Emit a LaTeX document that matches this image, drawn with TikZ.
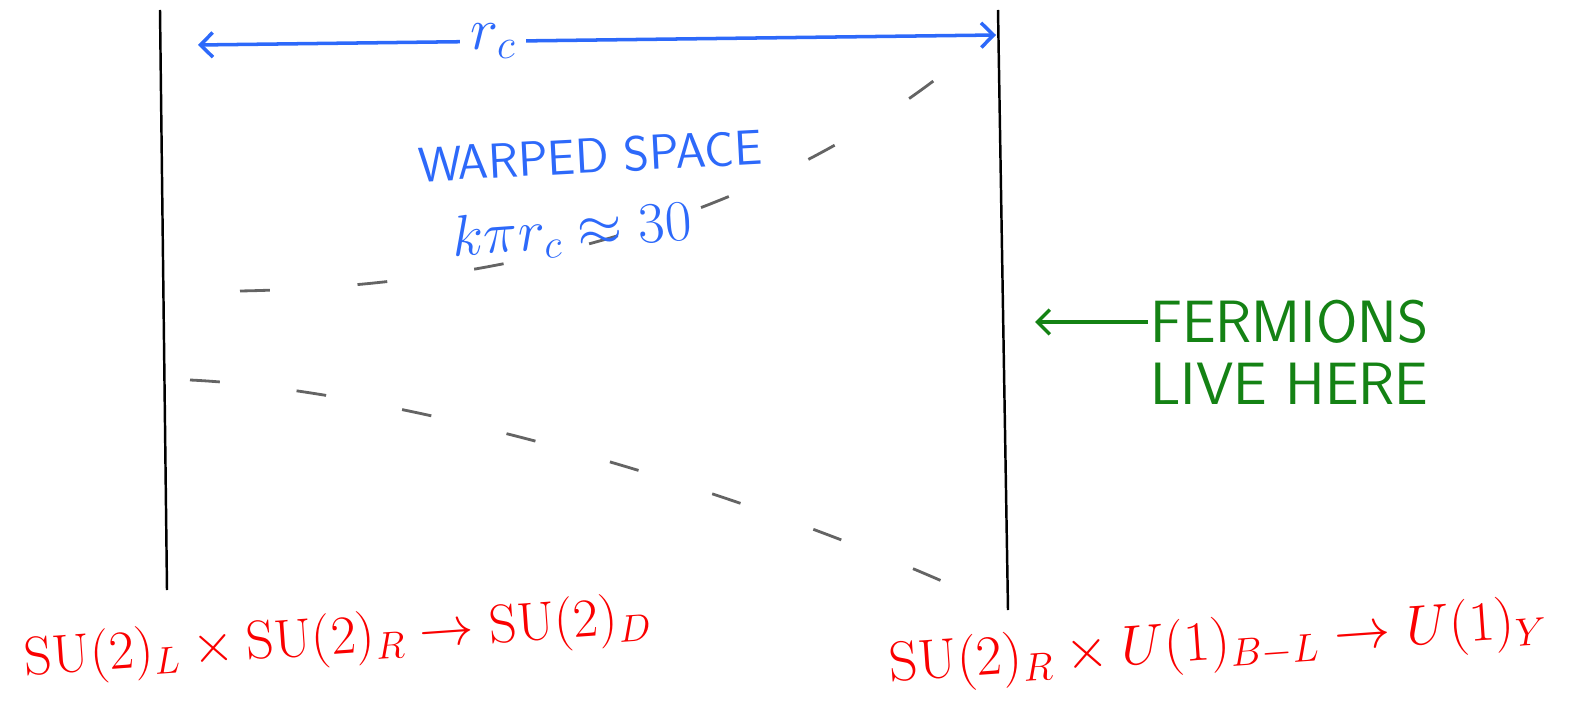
\RequirePackage{fix-cm}
\documentclass[tikz,border=0pt]{standalone}
\usepackage{fontspec}
\usepackage{amsmath}
\usetikzlibrary{arrows.meta,positioning}
\definecolor{penblue}{RGB}{45,105,250}
\definecolor{penred}{RGB}{250,0,0}
\definecolor{pengreen}{RGB}{20,130,20}
\definecolor{pengray}{RGB}{100,100,100}

\begin{document}
\begin{tikzpicture}[
  x=0.02cm, y=-0.02cm,
  wall/.style={draw=black, line width=1.4pt},
  warp/.style={draw=pengray, line width=1.6pt, dash pattern=on 17pt off 44pt},
  arr/.style={{Straight Barb[length=7pt,width=14pt]}-{Straight Barb[length=7pt,width=14pt]},
              line width=2pt, penblue},
  garr/.style={{Straight Barb[length=7pt,width=14pt]}-, line width=2pt, pengreen},
  lbl/.style={inner sep=1pt, font=\sffamily\fontsize{28}{38}\selectfont\addfontfeatures{LetterSpace=12}},
  glbl/.style={lbl, text=pengreen, font=\sffamily\fontsize{34}{40}\selectfont\addfontfeatures{LetterSpace=15}},
  grp/.style={text=penred, inner sep=1pt, rotate=4, font=\fontsize{31}{38}\selectfont}
]
\useasboundingbox (0,0) rectangle (1581,709);

% the two branes
\coordinate (uvtop) at (160,10);
\coordinate (uvbot) at (167,590);
\coordinate (irtop) at (998,10);
\coordinate (irbot) at (1008,610);
\draw[wall] (uvtop) -- (uvbot);
\draw[wall] (irtop) -- (irbot);

% size of the extra dimension
\coordinate (rcl) at (198,45);
\coordinate (rcr) at (996,35);
\draw[arr] (rcl) -- node[pos=0.37, fill=white, inner sep=6pt, text=penblue,
  font=\fontsize{34}{40}\selectfont] (rc) {$r_c$} (rcr);

% warp factor
\coordinate (wua) at (240,291);
\coordinate (wub) at (995,30);
\coordinate (wla) at (190,380);
\coordinate (wlb) at (995,605);
\draw[warp, dash pattern=on 17pt off 50pt] (wua) .. controls (560,285) and (820,190) .. (wub);
\draw[warp] (wla) .. controls (400,390) and (750,490) .. (wlb);

\node[lbl, text=penblue, rotate=3] (warped) at (590,156) {WARPED SPACE};
\node[lbl, text=penblue, rotate=4, font=\fontsize{33}{40}\selectfont] (krc) at (572,232) {$k\pi r_c \approx 30$};

% fermions on the IR brane
\node[glbl, anchor=west] (ferm1) at (1148,322) {FERMIONS};
\node[glbl, below=0.3cm of ferm1.south west, anchor=north west] (ferm2) {LIVE HERE};
\coordinate (fermtip) at (1035,322);
\draw[garr] (fermtip) -- (ferm1.west);

% symmetry breaking on each brane
\node[grp] (uvgrp) at (338,640) {$\mathrm{SU}(2)_L\times\mathrm{SU}(2)_R\to\mathrm{SU}(2)_D$};
\node[grp, font=\fontsize{32}{38}\selectfont] (irgrp) at (1218,645) {$\mathrm{SU}(2)_R\times U(1)_{B-L}\to U(1)_Y$};
\end{tikzpicture}
\end{document}
